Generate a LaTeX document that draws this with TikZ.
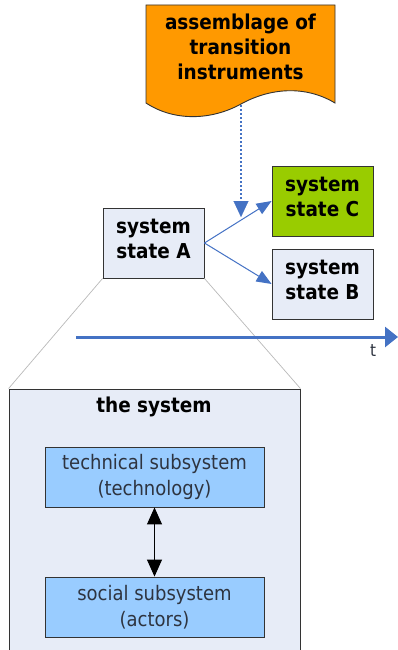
\documentclass[tikz,border=0pt]{standalone}
\usepackage{fontspec}
\setmainfont{DejaVu Sans Condensed}
\usetikzlibrary{arrows.meta}
\definecolor{docorange}{HTML}{FF9900}
\definecolor{stategreen}{HTML}{99CC00}
\definecolor{paleblue}{HTML}{E7ECF7}
\definecolor{subblue}{HTML}{99CCFF}
\definecolor{flowblue}{HTML}{4472C4}
\definecolor{edgegray}{HTML}{333333}
\definecolor{textslate}{HTML}{2E3440}
\tikzset{
  statebox/.style={draw=edgegray, line width=0.9pt, fill=paleblue,
    minimum width=101pt, minimum height=70pt, inner sep=0pt,
    text depth=9pt,
    align=center, font=\bfseries\fontsize{20.5}{25}\selectfont},
  subbox/.style={draw=edgegray, line width=0.9pt, fill=subblue,
    minimum width=219pt, minimum height=60pt, inner sep=0pt,
    align=center, text=textslate, font=\fontsize{20}{26}\selectfont},
  flow/.style={flowblue, line width=1pt, -{Triangle[length=15pt,width=12pt]}},
  guide/.style={draw=gray!55, line width=0.7pt},
}
\begin{document}
\begin{tikzpicture}[x=1pt, y=-1pt]
  \useasboundingbox (0,0) rectangle (398,650);
  \clip (0,0) rectangle (398,650);

  % document shape with the wavy lower edge
  \draw[fill=docorange, draw=edgegray, line width=0.9pt]
    (146,5) -- (335,5) -- (335,103)
    .. controls (305,85) and (270,88) .. (241,104)
    .. controls (212,120) and (175,122) .. (146,103) -- cycle;
  \node[align=center, font=\bfseries\fontsize{20.5}{25}\selectfont]
    (instr) at (240.5,47) {assemblage of\\transition\\instruments};
  \coordinate (docfoot) at (241,105);
  \coordinate (dotend) at (241,201);
  \coordinate (docaim) at (241,217);

  % system states
  \node[statebox] (A) at (153.5,243) {system\\state A};
  \node[statebox, fill=stategreen] (C) at (322.5,201) {system\\state C};
  \node[statebox] (B) at (322.5,284) {system\\state B};

  % the system and its subsystems
  \node[draw=edgegray, line width=0.9pt, fill=paleblue,
        minimum width=291pt, minimum height=290pt, inner sep=0pt]
    (sys) at (154.5,534) {};
  \node[font=\bfseries\fontsize{20.5}{26}\selectfont] (systitle) at (154,407) {the system};
  \node[subbox] (tech) at (154.5,477) {technical subsystem\\(technology)};
  \node[subbox] (social) at (154.5,607) {social subsystem\\(actors)};

  % guide lines from state A to the system
  \draw[guide] (A.south west) -- (sys.north west);
  \draw[guide] (A.south east) -- (sys.north east);

  % transitions
  \draw[flow] (A.east) -- (C.west);
  \draw[flow] (A.east) -- (B.west);
  \draw[flowblue, line width=1.5pt, dash pattern=on 2pt off 2pt]
    (docfoot) -- (dotend);
  \draw[flowblue, line width=0.1pt, -{Triangle[length=16pt,width=15pt]}]
    (dotend) -- (docaim);

  % time axis
  \coordinate (tstart) at (76,337);
  \coordinate (tend) at (398,337);
  \draw[flowblue, line width=3pt, -{Triangle[length=13pt,width=20pt]}] (tstart) -- (tend);
  \node[font=\fontsize{17}{20}\selectfont, text=textslate] (tlabel) at (373,351) {t};

  % link between subsystems
  \draw[line width=1pt, {Triangle[length=17pt,width=15pt]}-{Triangle[length=17pt,width=15pt]}]
    (tech.south) -- (social.north);
\end{tikzpicture}
\end{document}
